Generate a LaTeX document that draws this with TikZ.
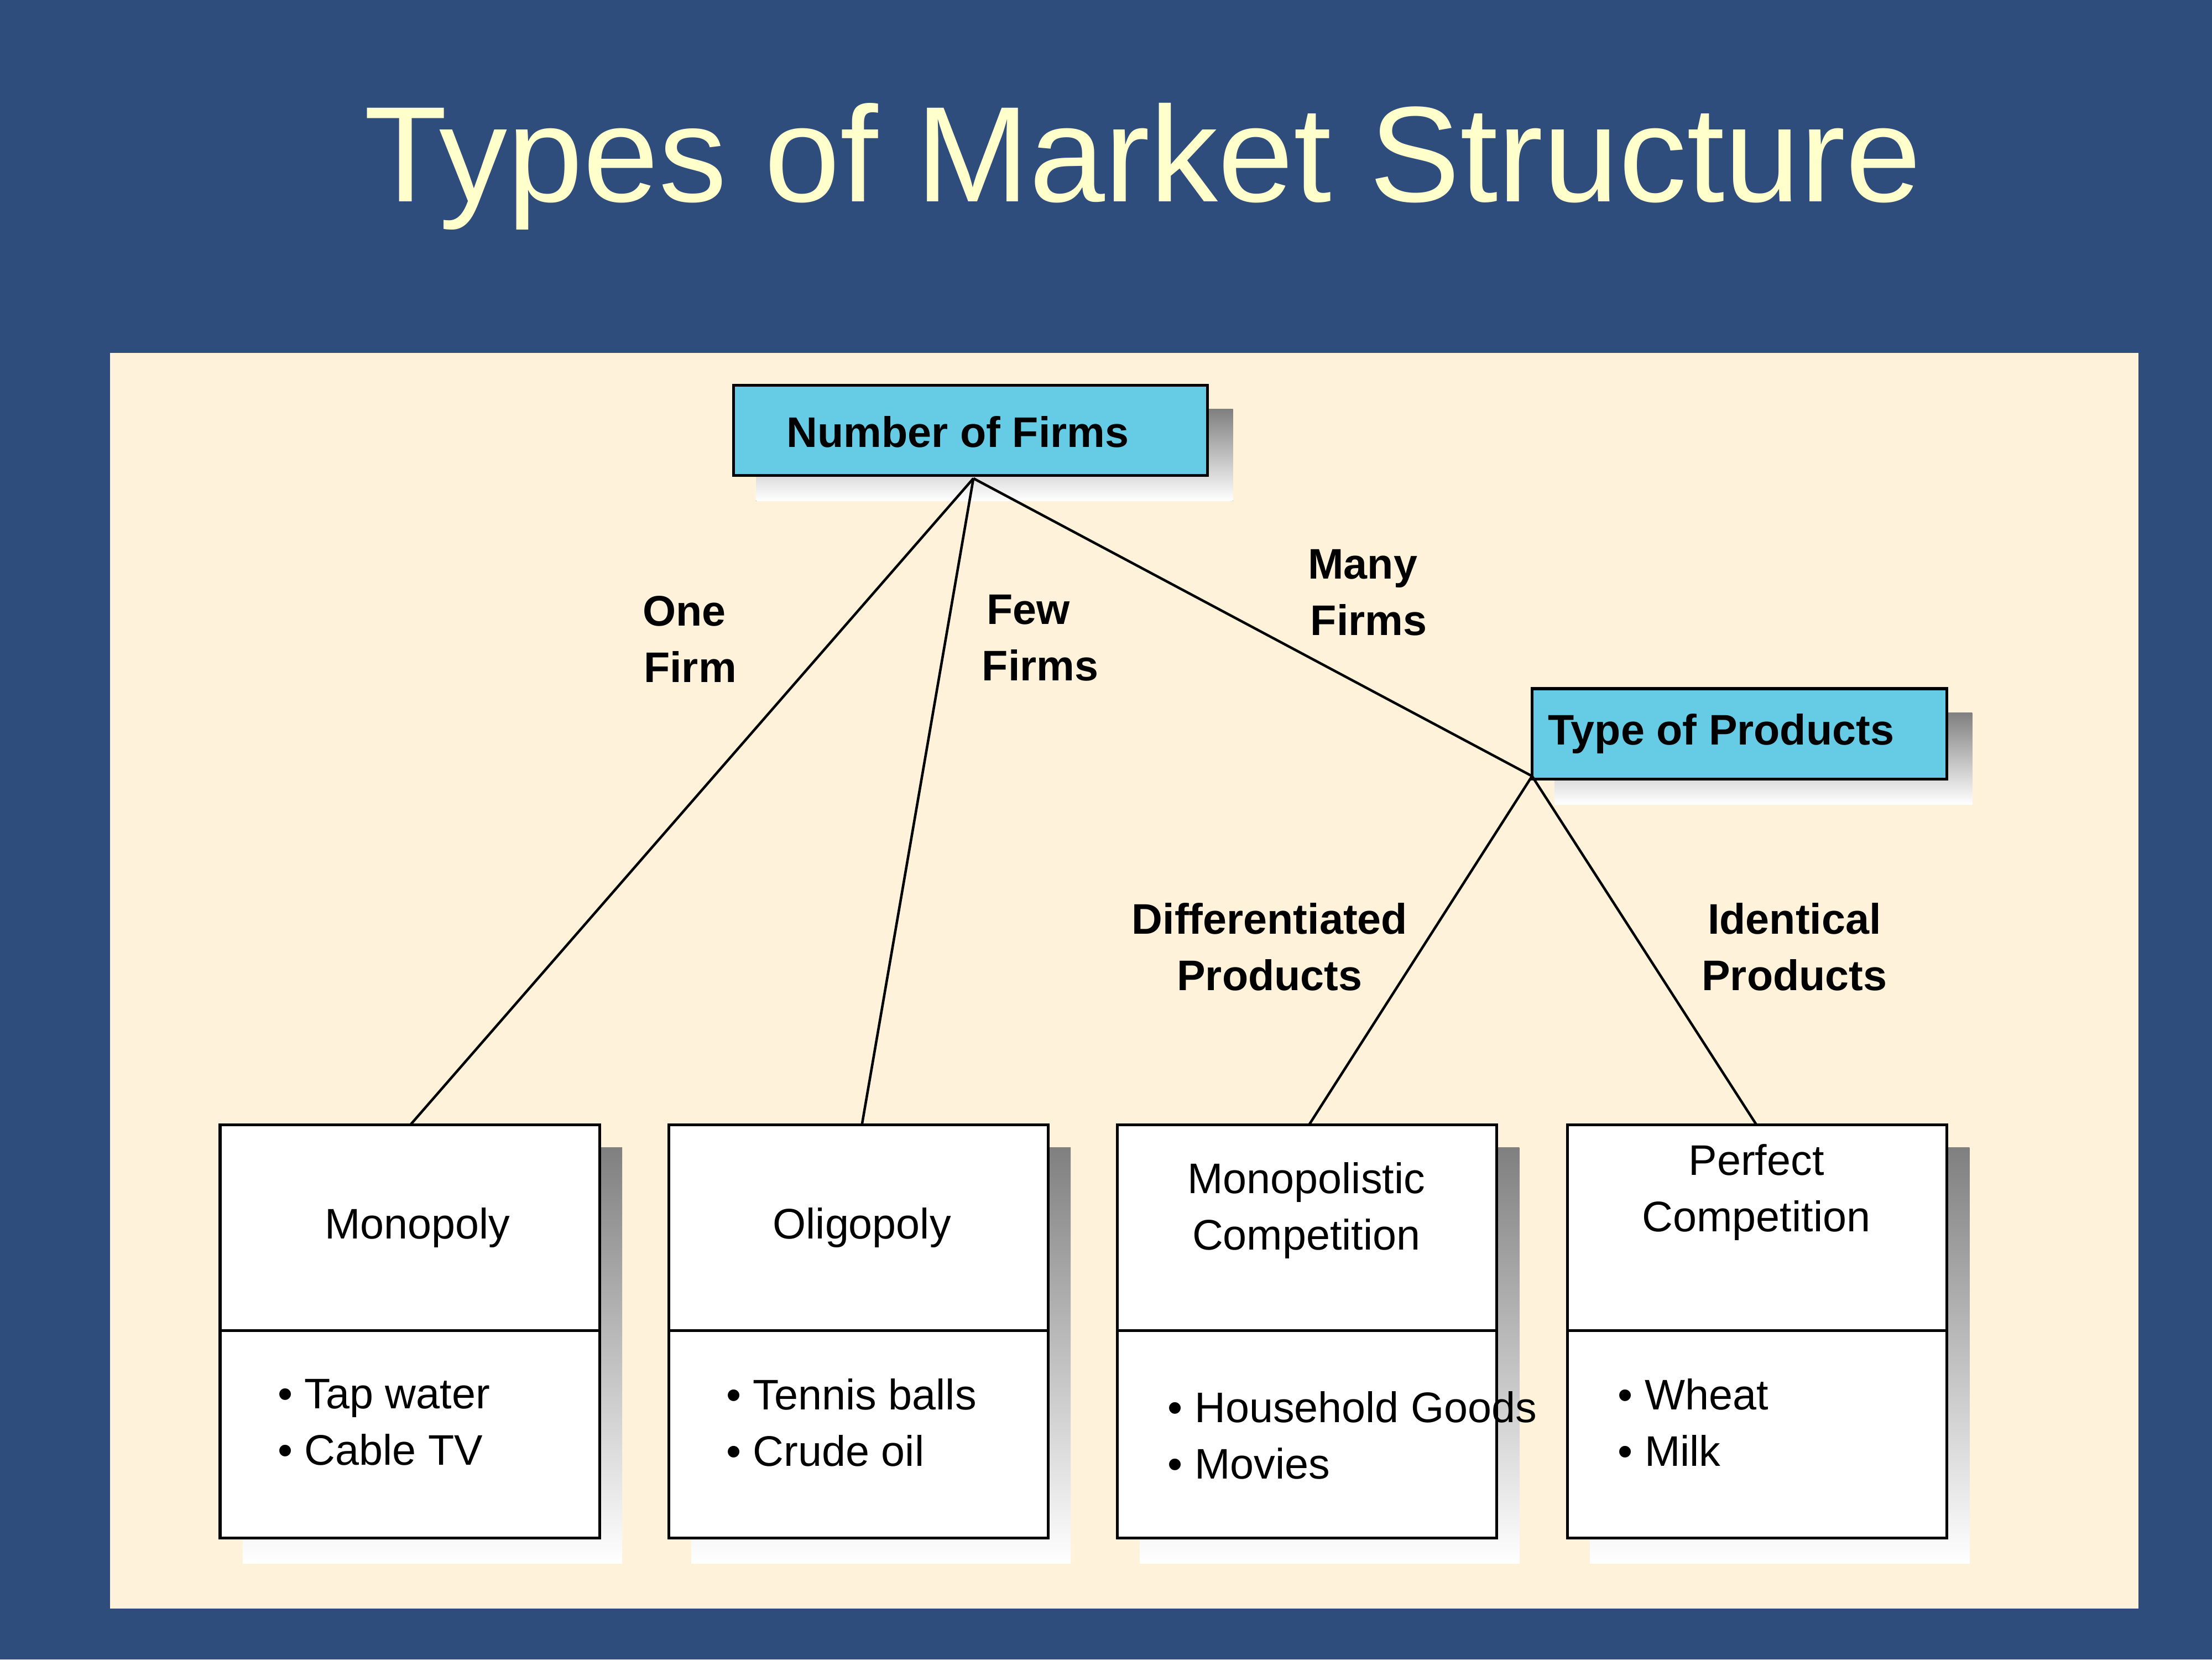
\documentclass[tikz,border=0pt]{standalone}
\usepackage{fontspec}
\setmainfont{Liberation Sans}
\definecolor{bgblue}{HTML}{2E4C7C}
\definecolor{cream}{HTML}{FFF2DA}
\definecolor{titleyel}{HTML}{FFFFCC}
\definecolor{cyanbox}{HTML}{66CCE6}
\definecolor{shade}{HTML}{E4E6EE}
\begin{document}
\begin{tikzpicture}[x=0.02551cm,y=-0.02551cm,
  hdr/.style={draw=black,line width=1.5pt,fill=cyanbox,inner sep=0pt,font=\fontsize{22}{26}\selectfont\bfseries},
  lbl/.style={align=center,font=\fontsize{22}{29}\selectfont\bfseries},
  box/.style={draw=black,line width=1.5pt,fill=white},
  txt/.style={align=center,font=\fontsize{22}{29}\selectfont},
  bul/.style={align=left,anchor=west,font=\fontsize{22}{29}\selectfont},
  ln/.style={line width=1.3pt}]
\useasboundingbox (0,0) rectangle (1568,1176);
\fill[bgblue] (0,0) rectangle (1568,1176);
\node[text=titleyel,font=\fontsize{70}{80}\selectfont] (title) at (810,118) {Types of Market Structure};
\fill[cream] (78,250) rectangle (1516,1140);
% header boxes
\fill[shade] (536,290) rectangle (874,355);
\fill[shade] (1102,505) rectangle (1398,570);
\draw[hdr] (520,273) rectangle (856,337);
\node[font=\fontsize{22}{26}\selectfont\bfseries] (nf) at (679,306) {Number of Firms};
\coordinate (nfs) at (690,339);
\draw[hdr] (1086,488) rectangle (1380,552);
\node[font=\fontsize{22}{26}\selectfont\bfseries] (tp) at (1220,520) {Type of Products};
\coordinate (tps) at (1086,550);
% bottom boxes
\foreach \x in {156,474,792,1111}{
  \fill[shade] (\x+16,813) rectangle (\x+285,1108);
  \draw[box] (\x,797) rectangle (\x+269,1090);
  \draw[line width=1.5pt] (\x,943) -- (\x+269,943);
}
\coordinate (mo) at (291,797);
\coordinate (ol) at (611,797);
\coordinate (mc) at (928,797);
\coordinate (pc) at (1245,797);
\node[txt] (t1) at (296,870) {Monopoly};
\node[txt] (t2) at (611,870) {Oligopoly};
\node[txt] (t3) at (926,858) {Monopolistic\\Competition};
\node[txt] (t4) at (1245,845) {Perfect\\Competition};
\node[bul] (b1) at (192,1008) {• Tap water\\• Cable TV};
\node[bul] (b2) at (510,1008) {• Tennis balls\\• Crude oil};
\node[bul] (b3) at (823,1017) {• Household Goods\\• Movies};
\node[bul] (b4) at (1142,1008) {• Wheat\\• Milk};
% connectors
\draw[ln] (nfs) -- (mo);
\draw[ln] (nfs) -- (ol);
\draw[ln] (nfs) -- (tps);
\draw[ln] (tps) -- (mc);
\draw[ln] (tps) -- (pc);
% labels
\node[lbl] (l1) at (485,453) {One\\\ Firm};
\node[lbl] (l2) at (729,452) {Few\\\ \ Firms};
\node[lbl] (l3) at (966,420) {Many\\\ Firms};
\node[lbl] (l4) at (900,671) {Differentiated\\Products};
\node[lbl] (l5) at (1272,671) {Identical\\Products};
\end{tikzpicture}
\end{document}
